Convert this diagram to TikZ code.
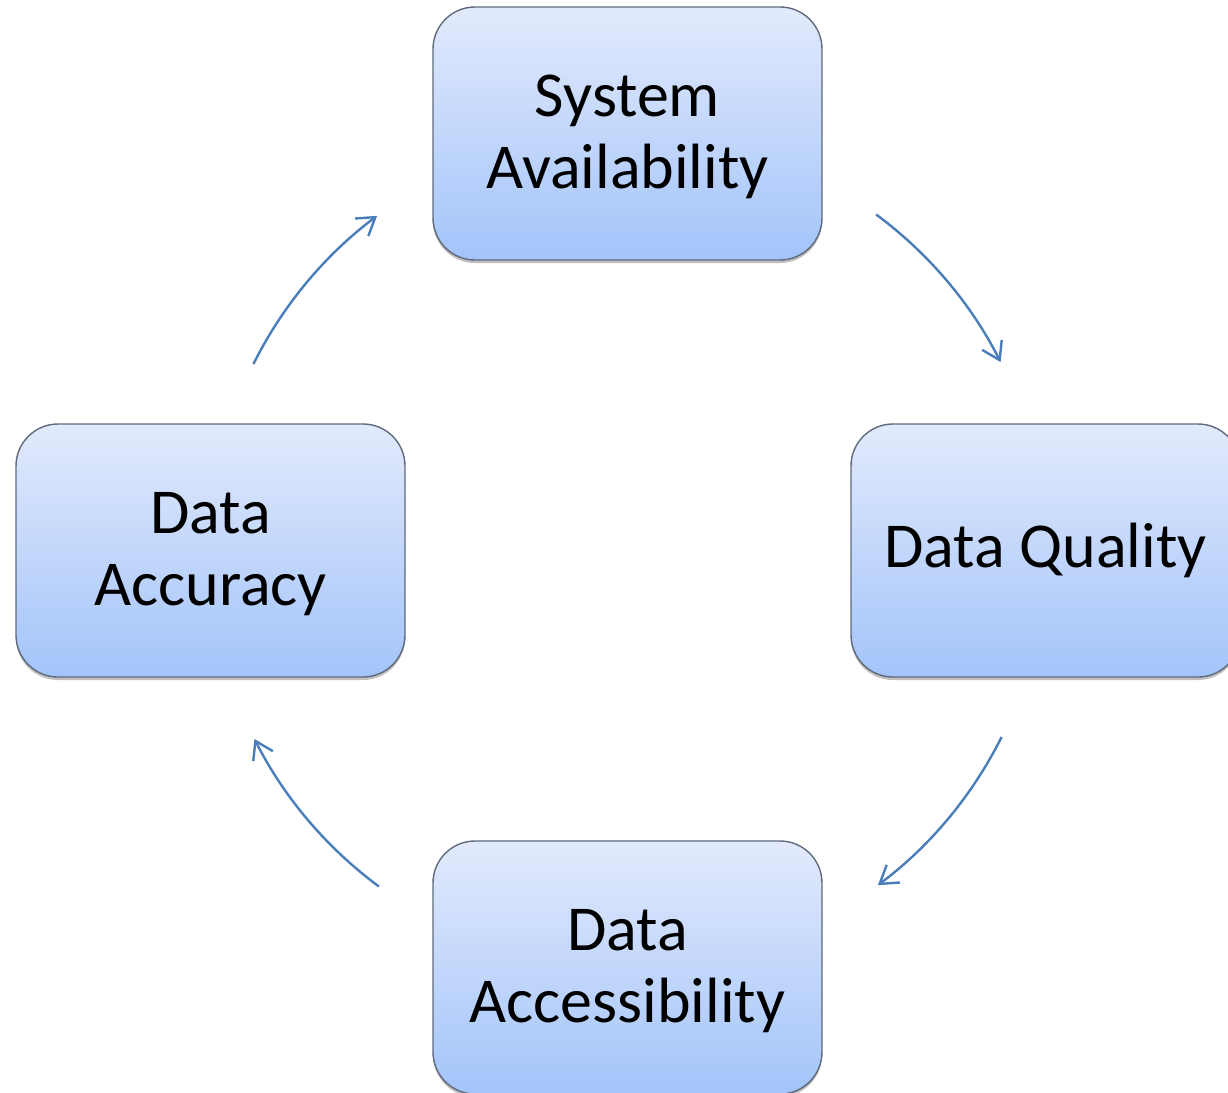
\documentclass[tikz,border=0pt]{standalone}
\usepackage{fontspec}
\setmainfont{Carlito}
\usetikzlibrary{arrows.meta,shadows}
\definecolor{boxtop}{RGB}{226,234,252}
\definecolor{boxbot}{RGB}{163,196,250}
\definecolor{boxline}{RGB}{96,106,124}
\definecolor{arrowblue}{RGB}{74,126,187}
\newcommand{\firststrut}{\rule{0pt}{48pt}}
\tikzset{
  cyclebox/.style={rectangle, rounded corners=42pt, draw=boxline, line width=1.4pt,
    top color=boxtop, bottom color=boxbot, minimum width=389pt, minimum height=253pt,
    inner sep=0pt, align=center, font=\fontsize{64}{72}\selectfont,
    drop shadow={shadow xshift=0pt, shadow yshift=-3pt, opacity=0.25, fill=black}},
  cyclearrow/.style={draw=arrowblue, line width=2.4pt,
    -{Straight Barb[length=17pt, width=22pt, line width=2.4pt]}}
}
\begin{document}
\begin{tikzpicture}[x=1pt,y=-1pt]
\useasboundingbox (0,0) rectangle (1228,1092);
\coordinate (c) at (627.5,550.5);
\node[cyclebox] (sys) at (627.5,133.5) {\firststrut System\\Availability};
\node[cyclebox] (qual) at (1045.5,550.5) {Data Quality};
\node[cyclebox] (acc) at (627.5,967.5) {\firststrut Data\\Accessibility};
\node[cyclebox] (accu) at (210.5,550.5) {\firststrut Data\\Accuracy};
\draw[cyclearrow] (c) ++(153.5:418pt) arc[start angle=153.5, end angle=126.8, radius=418pt];
\draw[cyclearrow] (c) ++(53.5:418pt) arc[start angle=53.5, end angle=26.8, radius=418pt];
\draw[cyclearrow] (c) ++(-26.5:418pt) arc[start angle=-26.5, end angle=-53.2, radius=418pt];
\draw[cyclearrow] (c) ++(-126.5:418pt) arc[start angle=-126.5, end angle=-153.2, radius=418pt];
\end{tikzpicture}
\end{document}
